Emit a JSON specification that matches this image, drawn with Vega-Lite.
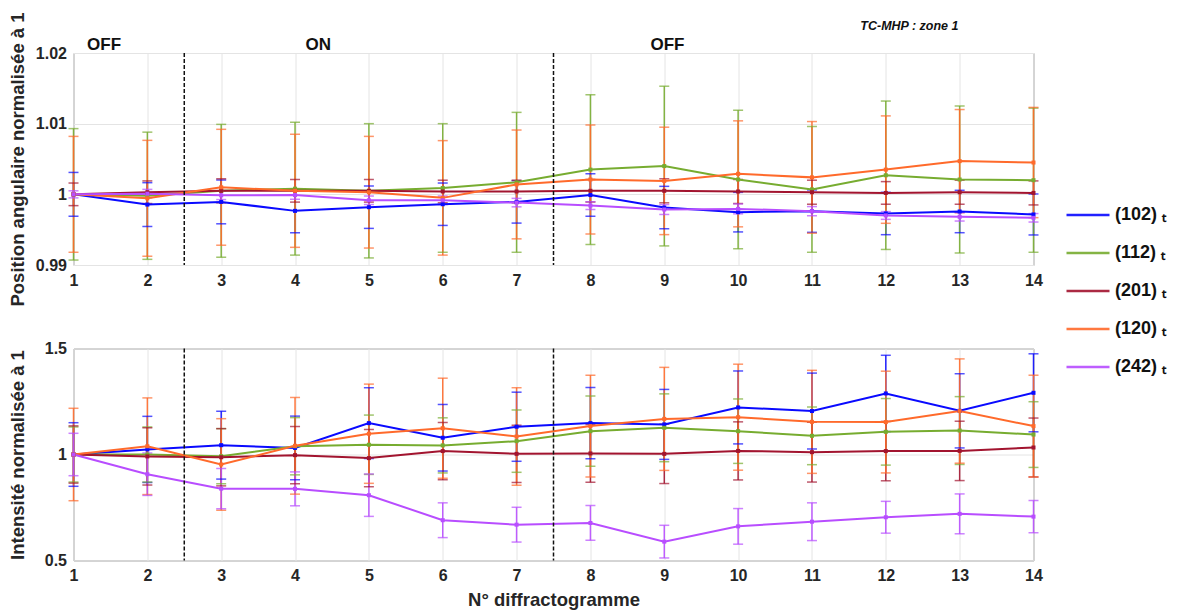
{
  "$schema": "https://vega.github.io/schema/vega-lite/v6.json",
  "background": "white",
  "padding": {"left": 7.5, "top": 11, "right": 2, "bottom": 1},
  "spacing": 32.5,
  "config": {
    "font": "Liberation Sans",
    "view": {"stroke": "#8c8c8c", "strokeWidth": 1},
    "axis": {
      "labelFont": "Liberation Sans", "labelFontWeight": "bold", "labelFontSize": 16, "labelColor": "#262626", "labelFlush": false,
      "titleFont": "Liberation Sans", "titleFontWeight": "bold", "titleFontSize": 18.5, "titleColor": "#262626",
      "gridColor": "#e4e4e4", "gridWidth": 1, "domain": false, "ticks": false, "labelPadding": 7, "titlePadding": 6
    }
  },
  "datasets": {
    "sep": [{"x": 2.5}, {"x": 7.5}],
    "lab": [{"x": 1.414, "y": 1.0204, "t": "OFF"}, {"x": 4.315, "y": 1.0204, "t": "ON"}, {"x": 9.043, "y": 1.0204, "t": "OFF"}],
    "d": [
      {"p":"A","s":"(102)","n":1,"v":1.0,"lo":0.9969,"hi":1.0031},
      {"p":"A","s":"(102)","n":2,"v":0.99855,"lo":0.99545,"hi":1.00165},
      {"p":"A","s":"(102)","n":3,"v":0.99893,"lo":0.99583,"hi":1.00203},
      {"p":"A","s":"(102)","n":4,"v":0.99766,"lo":0.99456,"hi":1.00076},
      {"p":"A","s":"(102)","n":5,"v":0.99818,"lo":0.99518,"hi":1.00118},
      {"p":"A","s":"(102)","n":6,"v":0.9986,"lo":0.9956,"hi":1.0016},
      {"p":"A","s":"(102)","n":7,"v":0.99893,"lo":0.99593,"hi":1.00193},
      {"p":"A","s":"(102)","n":8,"v":0.9999,"lo":0.9969,"hi":1.0029},
      {"p":"A","s":"(102)","n":9,"v":0.99813,"lo":0.99513,"hi":1.00113},
      {"p":"A","s":"(102)","n":10,"v":0.99748,"lo":0.99468,"hi":1.00028},
      {"p":"A","s":"(102)","n":11,"v":0.99762,"lo":0.99462,"hi":1.00062},
      {"p":"A","s":"(102)","n":12,"v":0.99729,"lo":0.99429,"hi":1.00029},
      {"p":"A","s":"(102)","n":13,"v":0.99757,"lo":0.99457,"hi":1.00057},
      {"p":"A","s":"(102)","n":14,"v":0.99715,"lo":0.99425,"hi":1.00005},
      {"p":"A","s":"(112)","n":1,"v":1.0,"lo":0.9907,"hi":1.0093},
      {"p":"A","s":"(112)","n":2,"v":0.9998,"lo":0.9908,"hi":1.0088},
      {"p":"A","s":"(112)","n":3,"v":1.0005,"lo":0.9911,"hi":1.0099},
      {"p":"A","s":"(112)","n":4,"v":1.0008,"lo":0.9914,"hi":1.0102},
      {"p":"A","s":"(112)","n":5,"v":1.0005,"lo":0.991,"hi":1.01},
      {"p":"A","s":"(112)","n":6,"v":1.0009,"lo":0.9918,"hi":1.01},
      {"p":"A","s":"(112)","n":7,"v":1.0017,"lo":0.9918,"hi":1.0116},
      {"p":"A","s":"(112)","n":8,"v":1.0035,"lo":0.9929,"hi":1.0141},
      {"p":"A","s":"(112)","n":9,"v":1.004,"lo":0.9927,"hi":1.0153},
      {"p":"A","s":"(112)","n":10,"v":1.0021,"lo":0.9923,"hi":1.0119},
      {"p":"A","s":"(112)","n":11,"v":1.0007,"lo":0.9918,"hi":1.0096},
      {"p":"A","s":"(112)","n":12,"v":1.0027,"lo":0.9922,"hi":1.0132},
      {"p":"A","s":"(112)","n":13,"v":1.0021,"lo":0.9917,"hi":1.0125},
      {"p":"A","s":"(112)","n":14,"v":1.002,"lo":0.9918,"hi":1.0122},
      {"p":"A","s":"(201)","n":1,"v":1.0,"lo":0.9984,"hi":1.0016},
      {"p":"A","s":"(201)","n":2,"v":1.0003,"lo":0.9987,"hi":1.0019},
      {"p":"A","s":"(201)","n":3,"v":1.0005,"lo":0.9988,"hi":1.0022},
      {"p":"A","s":"(201)","n":4,"v":1.0005,"lo":0.9989,"hi":1.0021},
      {"p":"A","s":"(201)","n":5,"v":1.0005,"lo":0.9989,"hi":1.0021},
      {"p":"A","s":"(201)","n":6,"v":1.0004,"lo":0.9988,"hi":1.002},
      {"p":"A","s":"(201)","n":7,"v":1.0004,"lo":0.9988,"hi":1.002},
      {"p":"A","s":"(201)","n":8,"v":1.0005,"lo":0.9989,"hi":1.0021},
      {"p":"A","s":"(201)","n":9,"v":1.0005,"lo":0.9988,"hi":1.0022},
      {"p":"A","s":"(201)","n":10,"v":1.0004,"lo":0.9987,"hi":1.0021},
      {"p":"A","s":"(201)","n":11,"v":1.0003,"lo":0.9986,"hi":1.002},
      {"p":"A","s":"(201)","n":12,"v":1.0002,"lo":0.9986,"hi":1.0018},
      {"p":"A","s":"(201)","n":13,"v":1.0003,"lo":0.9986,"hi":1.002},
      {"p":"A","s":"(201)","n":14,"v":1.0002,"lo":0.9985,"hi":1.0019},
      {"p":"A","s":"(120)","n":1,"v":1.0,"lo":0.9918,"hi":1.0082},
      {"p":"A","s":"(120)","n":2,"v":0.99944,"lo":0.99124,"hi":1.00764},
      {"p":"A","s":"(120)","n":3,"v":1.001,"lo":0.9928,"hi":1.0092},
      {"p":"A","s":"(120)","n":4,"v":1.0005,"lo":0.9925,"hi":1.0085},
      {"p":"A","s":"(120)","n":5,"v":1.0003,"lo":0.9924,"hi":1.0082},
      {"p":"A","s":"(120)","n":6,"v":0.9995,"lo":0.9914,"hi":1.0076},
      {"p":"A","s":"(120)","n":7,"v":1.0014,"lo":0.9937,"hi":1.0091},
      {"p":"A","s":"(120)","n":8,"v":1.0021,"lo":0.9944,"hi":1.0098},
      {"p":"A","s":"(120)","n":9,"v":1.0019,"lo":0.9943,"hi":1.0095},
      {"p":"A","s":"(120)","n":10,"v":1.0029,"lo":0.9954,"hi":1.0104},
      {"p":"A","s":"(120)","n":11,"v":1.0024,"lo":0.9945,"hi":1.0103},
      {"p":"A","s":"(120)","n":12,"v":1.0035,"lo":0.9959,"hi":1.0111},
      {"p":"A","s":"(120)","n":13,"v":1.0047,"lo":0.9974,"hi":1.012},
      {"p":"A","s":"(120)","n":14,"v":1.0045,"lo":0.9967,"hi":1.0123},
      {"p":"A","s":"(242)","n":1,"v":1.0,"lo":0.9995,"hi":1.0005},
      {"p":"A","s":"(242)","n":2,"v":1.0001,"lo":0.9995,"hi":1.0007},
      {"p":"A","s":"(242)","n":3,"v":0.99986,"lo":0.99926,"hi":1.00046},
      {"p":"A","s":"(242)","n":4,"v":0.9999,"lo":0.9993,"hi":1.0005},
      {"p":"A","s":"(242)","n":5,"v":0.99916,"lo":0.99856,"hi":0.99976},
      {"p":"A","s":"(242)","n":6,"v":0.99916,"lo":0.99856,"hi":0.99976},
      {"p":"A","s":"(242)","n":7,"v":0.99883,"lo":0.99823,"hi":0.99943},
      {"p":"A","s":"(242)","n":8,"v":0.99841,"lo":0.99786,"hi":0.99896},
      {"p":"A","s":"(242)","n":9,"v":0.99785,"lo":0.99715,"hi":0.99855},
      {"p":"A","s":"(242)","n":10,"v":0.99794,"lo":0.99724,"hi":0.99864},
      {"p":"A","s":"(242)","n":11,"v":0.99762,"lo":0.99697,"hi":0.99827},
      {"p":"A","s":"(242)","n":12,"v":0.99701,"lo":0.99646,"hi":0.99756},
      {"p":"A","s":"(242)","n":13,"v":0.99682,"lo":0.99622,"hi":0.99742},
      {"p":"A","s":"(242)","n":14,"v":0.99668,"lo":0.99608,"hi":0.99728},
      {"p":"B","s":"(102)","n":1,"v":1.0,"lo":0.85,"hi":1.15},
      {"p":"B","s":"(102)","n":2,"v":1.024,"lo":0.868,"hi":1.18},
      {"p":"B","s":"(102)","n":3,"v":1.044,"lo":0.884,"hi":1.204},
      {"p":"B","s":"(102)","n":4,"v":1.031,"lo":0.881,"hi":1.181},
      {"p":"B","s":"(102)","n":5,"v":1.148,"lo":0.981,"hi":1.315},
      {"p":"B","s":"(102)","n":6,"v":1.079,"lo":0.922,"hi":1.236},
      {"p":"B","s":"(102)","n":7,"v":1.131,"lo":0.968,"hi":1.294},
      {"p":"B","s":"(102)","n":8,"v":1.148,"lo":0.98,"hi":1.316},
      {"p":"B","s":"(102)","n":9,"v":1.142,"lo":0.977,"hi":1.307},
      {"p":"B","s":"(102)","n":10,"v":1.222,"lo":1.05,"hi":1.394},
      {"p":"B","s":"(102)","n":11,"v":1.205,"lo":1.026,"hi":1.384},
      {"p":"B","s":"(102)","n":12,"v":1.288,"lo":1.108,"hi":1.468},
      {"p":"B","s":"(102)","n":13,"v":1.206,"lo":1.031,"hi":1.381},
      {"p":"B","s":"(102)","n":14,"v":1.291,"lo":1.107,"hi":1.475},
      {"p":"B","s":"(112)","n":1,"v":1.0,"lo":0.87,"hi":1.13},
      {"p":"B","s":"(112)","n":2,"v":1.0,"lo":0.87,"hi":1.13},
      {"p":"B","s":"(112)","n":3,"v":0.992,"lo":0.862,"hi":1.122},
      {"p":"B","s":"(112)","n":4,"v":1.039,"lo":0.904,"hi":1.174},
      {"p":"B","s":"(112)","n":5,"v":1.046,"lo":0.906,"hi":1.186},
      {"p":"B","s":"(112)","n":6,"v":1.043,"lo":0.913,"hi":1.173},
      {"p":"B","s":"(112)","n":7,"v":1.063,"lo":0.916,"hi":1.21},
      {"p":"B","s":"(112)","n":8,"v":1.11,"lo":0.944,"hi":1.276},
      {"p":"B","s":"(112)","n":9,"v":1.126,"lo":0.966,"hi":1.286},
      {"p":"B","s":"(112)","n":10,"v":1.11,"lo":0.958,"hi":1.262},
      {"p":"B","s":"(112)","n":11,"v":1.088,"lo":0.952,"hi":1.224},
      {"p":"B","s":"(112)","n":12,"v":1.107,"lo":0.95,"hi":1.264},
      {"p":"B","s":"(112)","n":13,"v":1.113,"lo":0.953,"hi":1.273},
      {"p":"B","s":"(112)","n":14,"v":1.094,"lo":0.939,"hi":1.249},
      {"p":"B","s":"(201)","n":1,"v":1.0,"lo":0.865,"hi":1.135},
      {"p":"B","s":"(201)","n":2,"v":0.991,"lo":0.856,"hi":1.126},
      {"p":"B","s":"(201)","n":3,"v":0.987,"lo":0.852,"hi":1.122},
      {"p":"B","s":"(201)","n":4,"v":0.997,"lo":0.862,"hi":1.132},
      {"p":"B","s":"(201)","n":5,"v":0.983,"lo":0.848,"hi":1.118},
      {"p":"B","s":"(201)","n":6,"v":1.016,"lo":0.881,"hi":1.151},
      {"p":"B","s":"(201)","n":7,"v":1.003,"lo":0.868,"hi":1.138},
      {"p":"B","s":"(201)","n":8,"v":1.005,"lo":0.869,"hi":1.141},
      {"p":"B","s":"(201)","n":9,"v":1.003,"lo":0.863,"hi":1.143},
      {"p":"B","s":"(201)","n":10,"v":1.017,"lo":0.88,"hi":1.154},
      {"p":"B","s":"(201)","n":11,"v":1.011,"lo":0.87,"hi":1.152},
      {"p":"B","s":"(201)","n":12,"v":1.016,"lo":0.876,"hi":1.156},
      {"p":"B","s":"(201)","n":13,"v":1.017,"lo":0.877,"hi":1.157},
      {"p":"B","s":"(201)","n":14,"v":1.033,"lo":0.894,"hi":1.172},
      {"p":"B","s":"(120)","n":1,"v":1.0,"lo":0.782,"hi":1.218},
      {"p":"B","s":"(120)","n":2,"v":1.039,"lo":0.811,"hi":1.267},
      {"p":"B","s":"(120)","n":3,"v":0.953,"lo":0.737,"hi":1.169},
      {"p":"B","s":"(120)","n":4,"v":1.041,"lo":0.813,"hi":1.269},
      {"p":"B","s":"(120)","n":5,"v":1.098,"lo":0.864,"hi":1.332},
      {"p":"B","s":"(120)","n":6,"v":1.124,"lo":0.888,"hi":1.36},
      {"p":"B","s":"(120)","n":7,"v":1.085,"lo":0.855,"hi":1.315},
      {"p":"B","s":"(120)","n":8,"v":1.134,"lo":0.894,"hi":1.374},
      {"p":"B","s":"(120)","n":9,"v":1.168,"lo":0.925,"hi":1.411},
      {"p":"B","s":"(120)","n":10,"v":1.176,"lo":0.926,"hi":1.426},
      {"p":"B","s":"(120)","n":11,"v":1.154,"lo":0.911,"hi":1.397},
      {"p":"B","s":"(120)","n":12,"v":1.153,"lo":0.913,"hi":1.393},
      {"p":"B","s":"(120)","n":13,"v":1.205,"lo":0.959,"hi":1.451},
      {"p":"B","s":"(120)","n":14,"v":1.134,"lo":0.894,"hi":1.374},
      {"p":"B","s":"(242)","n":1,"v":1.0,"lo":0.9,"hi":1.1},
      {"p":"B","s":"(242)","n":2,"v":0.907,"lo":0.807,"hi":1.007},
      {"p":"B","s":"(242)","n":3,"v":0.839,"lo":0.744,"hi":0.934},
      {"p":"B","s":"(242)","n":4,"v":0.838,"lo":0.758,"hi":0.918},
      {"p":"B","s":"(242)","n":5,"v":0.808,"lo":0.708,"hi":0.908},
      {"p":"B","s":"(242)","n":6,"v":0.69,"lo":0.608,"hi":0.772},
      {"p":"B","s":"(242)","n":7,"v":0.669,"lo":0.587,"hi":0.751},
      {"p":"B","s":"(242)","n":8,"v":0.677,"lo":0.595,"hi":0.759},
      {"p":"B","s":"(242)","n":9,"v":0.589,"lo":0.512,"hi":0.666},
      {"p":"B","s":"(242)","n":10,"v":0.661,"lo":0.577,"hi":0.745},
      {"p":"B","s":"(242)","n":11,"v":0.683,"lo":0.594,"hi":0.772},
      {"p":"B","s":"(242)","n":12,"v":0.704,"lo":0.629,"hi":0.779},
      {"p":"B","s":"(242)","n":13,"v":0.72,"lo":0.626,"hi":0.814},
      {"p":"B","s":"(242)","n":14,"v":0.707,"lo":0.631,"hi":0.783}
    ]
  },
  "vconcat": [
    {
      "width": 960, "height": 212,
      "title": {"text": "TC-MHP : zone 1", "anchor": "end", "frame": "group", "dx": -75, "offset": -21, "fontSize": 12.5, "fontStyle": "italic", "fontWeight": "bold", "font": "Liberation Sans", "color": "#111111"},
      "layer": [
        {
          "data": {"name": "d"},
          "transform": [{"filter": "datum.p == 'A'"}],
          "layer": [
            {"mark": {"type": "rule", "strokeWidth": 1.5, "opacity": 0.9},
             "encoding": {"x": {"field": "n", "type": "quantitative"}, "y": {"field": "lo", "type": "quantitative"}, "y2": {"field": "hi"}}},
            {"mark": {"type": "tick", "orient": "horizontal", "size": 10, "thickness": 1.5},
             "encoding": {"x": {"field": "n", "type": "quantitative"}, "y": {"field": "lo", "type": "quantitative"}}},
            {"mark": {"type": "tick", "orient": "horizontal", "size": 10, "thickness": 1.5},
             "encoding": {"x": {"field": "n", "type": "quantitative"}, "y": {"field": "hi", "type": "quantitative"}}},
            {"mark": {"type": "line", "strokeWidth": 2},
             "encoding": {"x": {"field": "n", "type": "quantitative"}, "y": {"field": "v", "type": "quantitative"}}},
            {"mark": {"type": "point", "shape": "square", "filled": true, "size": 16, "opacity": 1},
             "encoding": {"x": {"field": "n", "type": "quantitative"}, "y": {"field": "v", "type": "quantitative"}}}
          ],
          "encoding": {
            "color": {"field": "s", "type": "nominal",
              "scale": {"domain": ["(102)", "(112)", "(201)", "(120)", "(242)"], "range": ["#0a0aff", "#77ac30", "#a2142f", "#ff6a2b", "#b84dff"]},
              "legend": {"orient": "none", "legendX": 991.5, "legendY": 139, "title": null, "symbolType": "stroke", "symbolSize": 1849, "symbolStrokeWidth": 2.5,
                "labelFont": "Liberation Sans", "labelFontWeight": "bold", "labelFontSize": 18, "labelColor": "#111111", "labelOffset": 4, "rowPadding": 6,
                "labelExpr": "datum.label + ' ₜ'"}
            }
          }
        },
        {"data": {"name": "sep"}, "mark": {"type": "rule", "color": "#111111", "strokeWidth": 1.5, "strokeDash": [4, 2]},
         "encoding": {"x": {"field": "x", "type": "quantitative"}}},
        {"data": {"name": "lab"}, "mark": {"type": "text", "fontSize": 17, "fontWeight": "bold", "font": "Liberation Sans", "baseline": "alphabetic", "color": "#111111"},
         "encoding": {"x": {"field": "x", "type": "quantitative"}, "y": {"field": "y", "type": "quantitative"}, "text": {"field": "t"}}}
      ],
      "encoding": {
        "x": {"scale": {"domain": [1, 14], "nice": false, "zero": false}, "axis": {"values": [1,2,3,4,5,6,7,8,9,10,11,12,13,14], "title": null}},
        "y": {"scale": {"domain": [0.99, 1.02], "nice": false, "zero": false}, "axis": {"values": [0.99, 1, 1.01, 1.02], "format": "~g", "title": "Position angulaire normalisée à 1", "titleX": -46}}
      }
    },
    {
      "width": 960, "height": 212,
      "layer": [
        {
          "data": {"name": "d"},
          "transform": [{"filter": "datum.p == 'B'"}],
          "layer": [
            {"mark": {"type": "rule", "strokeWidth": 1.5, "opacity": 0.9},
             "encoding": {"x": {"field": "n", "type": "quantitative"}, "y": {"field": "lo", "type": "quantitative"}, "y2": {"field": "hi"}}},
            {"mark": {"type": "tick", "orient": "horizontal", "size": 10, "thickness": 1.5},
             "encoding": {"x": {"field": "n", "type": "quantitative"}, "y": {"field": "lo", "type": "quantitative"}}},
            {"mark": {"type": "tick", "orient": "horizontal", "size": 10, "thickness": 1.5},
             "encoding": {"x": {"field": "n", "type": "quantitative"}, "y": {"field": "hi", "type": "quantitative"}}},
            {"mark": {"type": "line", "strokeWidth": 2},
             "encoding": {"x": {"field": "n", "type": "quantitative"}, "y": {"field": "v", "type": "quantitative"}}},
            {"mark": {"type": "point", "shape": "square", "filled": true, "size": 16, "opacity": 1},
             "encoding": {"x": {"field": "n", "type": "quantitative"}, "y": {"field": "v", "type": "quantitative"}}}
          ],
          "encoding": {
            "color": {"field": "s", "type": "nominal",
              "scale": {"domain": ["(102)", "(112)", "(201)", "(120)", "(242)"], "range": ["#0a0aff", "#77ac30", "#a2142f", "#ff6a2b", "#b84dff"]}}
          }
        },
        {"data": {"name": "sep"}, "mark": {"type": "rule", "color": "#111111", "strokeWidth": 1.5, "strokeDash": [4, 2]},
         "encoding": {"x": {"field": "x", "type": "quantitative"}}}
      ],
      "encoding": {
        "x": {"scale": {"domain": [1, 14], "nice": false, "zero": false}, "axis": {"values": [1,2,3,4,5,6,7,8,9,10,11,12,13,14], "title": "N° diffractogramme", "titlePadding": 7}},
        "y": {"scale": {"domain": [0.5, 1.5], "nice": false, "zero": false}, "axis": {"values": [0.5, 1, 1.5], "format": "~g", "title": "Intensité normalisée à 1", "titleX": -46}}
      }
    }
  ],
  "resolve": {"scale": {"color": "shared"}}
}
